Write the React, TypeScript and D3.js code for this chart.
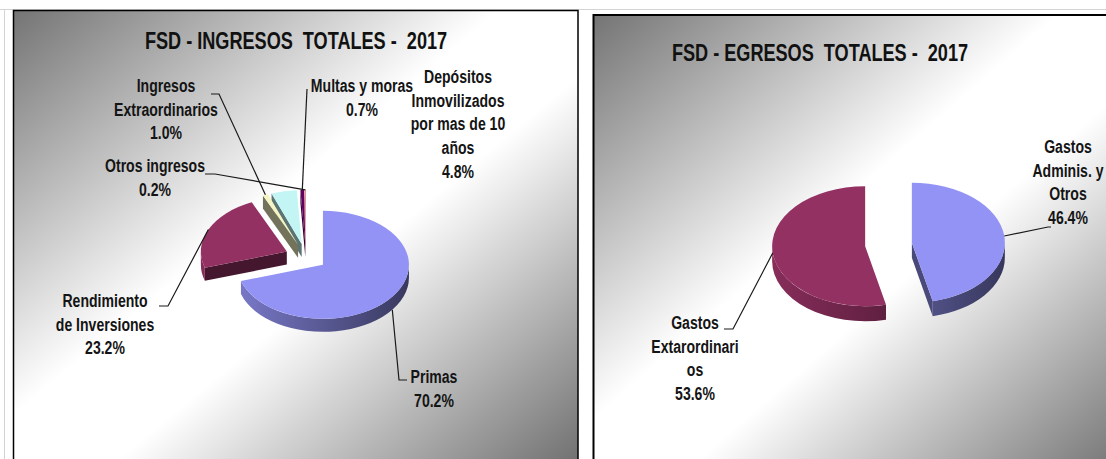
import React, { useEffect, useRef } from "react";
import * as d3 from "d3";

// FSD - ingresos totales 2017 (clockwise from 12 o'clock)
const ingresosCategorias = [
  "Primas",
  "Rendimiento de Inversiones",
  "Ingresos Extraordinarios",
  "Depósitos Inmovilizados por mas de 10 años",
  "Multas y moras",
  "Otros ingresos",
];
const ingresosEtiquetas = [
  ["Primas"],
  ["Rendimiento", "de Inversiones"],
  ["Ingresos", "Extraordinarios"],
  ["Depósitos", "Inmovilizados", "por mas de 10", "años"],
  ["Multas y moras"],
  ["Otros ingresos"],
];
const ingresosValores = [70.2, 23.2, 1.0, 4.8, 0.7, 0.2];
const ingresosColores = ["#9999FF", "#993366", "#FFFFCC", "#CCFFFF", "#660066", "#FF8080"];

// FSD - egresos totales 2017
const egresosCategorias = ["Gastos Adminis. y Otros", "Gastos Extarordinarios"];
const egresosEtiquetas = [
  ["Gastos", "Adminis. y", "Otros"],
  ["Gastos", "Extarordinari", "os"],
];
const egresosValores = [46.4, 53.6];
const egresosColores = ["#9999FF", "#993366"];

// layout of the two panels (label spots were placed by hand in the original)
const charts = [
  {
    id: "ing",
    title: "FSD - INGRESOS  TOTALES -  2017",
    names: ingresosCategorias,
    labels: ingresosEtiquetas,
    values: ingresosValores,
    colors: ingresosColores,
    frame: { x: 13.5, y: 10.5, w: 564.5, h: 470, sw: 1.5 },
    titleAt: [296, 49],
    cx: 306, cy: 257, rx: 86, ry: 54, depth: 13, explode: 21,
    spots: [
      { x: 434, y: 383, leader: [[399, 380], [407, 380]] },
      { x: 105, y: 307, leader: [[168, 306], [159, 306]] },
      { x: 166, y: 92, leader: [[219, 94], [211, 94]] },
      { x: 458, y: 83, leader: null },
      { x: 362, y: 92, leader: [[307, 89]] },
      { x: 155, y: 172, leader: [[215, 174], [205, 174]] },
    ],
  },
  {
    id: "egr",
    title: "FSD - EGRESOS  TOTALES -  2017",
    names: egresosCategorias,
    labels: egresosEtiquetas,
    values: egresosValores,
    colors: egresosColores,
    frame: { x: 593.5, y: 15, w: 540, h: 470, sw: 2 },
    titleAt: [820, 61],
    cx: 888.5, cy: 244.5, rx: 93, ry: 60, depth: 15, explode: 23.5,
    spots: [
      { x: 1068, y: 153, leader: [[1048, 227], [1051, 227]] },
      { x: 695, y: 329, leader: [[733, 329], [724, 329]] },
    ],
  },
];

const FONT = "'Liberation Sans', Arial, sans-serif";
const LINE_H = 23.7;

function shade(c, f) {
  const r = d3.rgb(c);
  return d3.rgb(r.r * f, r.g * f, r.b * f).formatHex();
}

function drawChart(svg, defs, cfg) {
  const k = cfg.ry / cfg.rx;
  const dz = cfg.depth / k;
  const r = cfg.rx;

  // panel with the gray-white-gray diagonal fill
  const bg = defs.append("linearGradient")
    .attr("id", cfg.id + "-bg")
    .attr("x1", 0).attr("y1", 0).attr("x2", 1).attr("y2", 1);
  bg.append("stop").attr("offset", 0).attr("stop-color", "#747474");
  bg.append("stop").attr("offset", 0.43).attr("stop-color", "#ffffff");
  bg.append("stop").attr("offset", 0.57).attr("stop-color", "#ffffff");
  bg.append("stop").attr("offset", 1).attr("stop-color", "#6a6a6a");

  svg.append("rect")
    .attr("x", cfg.frame.x).attr("y", cfg.frame.y)
    .attr("width", cfg.frame.w).attr("height", cfg.frame.h)
    .attr("fill", `url(#${cfg.id}-bg)`)
    .attr("stroke", "#000").attr("stroke-width", cfg.frame.sw);

  // narrow bold face: squeeze Liberation Sans horizontally
  svg.append("text")
    .attr("transform", `translate(${cfg.titleAt[0]},${cfg.titleAt[1]}) scale(0.755,1)`)
    .attr("text-anchor", "middle")
    .style("font-family", FONT)
    .style("font-weight", "bold")
    .style("font-size", "24px")
    .style("white-space", "pre")
    .attr("fill", "#111")
    .text(cfg.title);

  const pie = d3.pie().sort(null).value((d) => d);
  const arcs = pie(cfg.values).map((a, i) => {
    const mid = (a.startAngle + a.endAngle) / 2;
    return { ...a, i, mid, ox: Math.sin(mid) * cfg.explode, oy: -Math.cos(mid) * cfg.explode };
  });

  // back slices first
  const order = arcs.slice().sort((a, b) => -Math.cos(a.mid) + Math.cos(b.mid));
  const space = svg.append("g")
    .attr("transform", `translate(${cfg.cx},${cfg.cy}) scale(1,${k})`);
  const arcGen = d3.arc().innerRadius(0).outerRadius(r);

  order.forEach((a) => {
    const base = cfg.colors[a.i];
    const sg = space.append("g").attr("transform", `translate(${a.ox},${a.oy})`);

    const gid = `${cfg.id}-wall-${a.i}`;
    const wg = defs.append("linearGradient").attr("id", gid)
      .attr("gradientUnits", "userSpaceOnUse")
      .attr("x1", -r - a.ox - cfg.explode).attr("y1", 0)
      .attr("x2", r - a.ox + cfg.explode).attr("y2", 0);
    wg.append("stop").attr("offset", 0).attr("stop-color", shade(base, 0.88));
    wg.append("stop").attr("offset", 1).attr("stop-color", shade(base, 0.36));

    // radial cut faces
    const face = (t) => {
      const px = r * Math.sin(t), py = -r * Math.cos(t);
      return `M0,0L${px},${py}L${px},${py + dz}L0,${dz}Z`;
    };
    if (Math.sin(a.startAngle) < -1e-6) {
      sg.append("path").attr("d", face(a.startAngle)).attr("fill", shade(base, 0.45));
    }
    if (Math.sin(a.endAngle) > 1e-6) {
      sg.append("path").attr("d", face(a.endAngle)).attr("fill", shade(base, 0.48));
    }

    // outer wall, front half only
    const lo = Math.max(a.startAngle, Math.PI / 2);
    const hi = Math.min(a.endAngle, (3 * Math.PI) / 2);
    if (lo < hi) {
      const p = d3.path();
      p.moveTo(r * Math.sin(lo), -r * Math.cos(lo));
      p.arc(0, 0, r, lo - Math.PI / 2, hi - Math.PI / 2, false);
      p.lineTo(r * Math.sin(hi), -r * Math.cos(hi) + dz);
      p.arc(0, dz, r, hi - Math.PI / 2, lo - Math.PI / 2, true);
      p.closePath();
      sg.append("path").attr("d", p.toString()).attr("fill", `url(#${gid})`);
    }

    // top face
    sg.append("path").attr("d", arcGen(a)).attr("fill", shade(base, 0.96));
  });

  // labels with leader lines
  const pct = d3.format(".1f");
  arcs.forEach((a) => {
    const spot = cfg.spots[a.i];
    const lines = [...cfg.labels[a.i], pct(cfg.values[a.i]) + "%"];

    if (spot.leader) {
      const front = -Math.cos(a.mid) > 0.3 ? cfg.depth : 0;
      const ax = cfg.cx + a.ox + r * Math.sin(a.mid);
      const ay = cfg.cy + k * (a.oy - r * Math.cos(a.mid)) + front;
      svg.append("path")
        .attr("d", d3.line()([[ax, ay], ...spot.leader]))
        .attr("fill", "none")
        .attr("stroke", "#1a1a1a")
        .attr("stroke-width", 1.2);
    }

    lines.forEach((ln, j) => {
      svg.append("text")
        .attr("transform", `translate(${spot.x},${spot.y + j * LINE_H}) scale(0.74,1)`)
        .attr("text-anchor", "middle")
        .style("font-family", FONT)
        .style("font-weight", "bold")
        .style("font-size", "19px")
        .attr("fill", "#141414")
        .text(ln);
    });
  });
}

export default function App() {
  const ref = useRef(null);

  useEffect(() => {
    const svg = d3.select(ref.current);
    svg.selectAll("*").remove();
    const defs = svg.append("defs");

    // faint outer frame of the page
    svg.append("line").attr("x1", 0).attr("x2", 1106).attr("y1", 9.5).attr("y2", 9.5)
      .attr("stroke", "#d4d4d4");
    svg.append("line").attr("x1", 4.5).attr("x2", 4.5).attr("y1", 9.5).attr("y2", 459)
      .attr("stroke", "#d4d4d4");

    charts.forEach((c) => drawChart(svg, defs, c));
  }, []);

  return (
    <svg
      ref={ref}
      width={1106}
      height={459}
      style={{ position: "absolute", left: 0, top: 0, background: "#fff" }}
    />
  );
}
